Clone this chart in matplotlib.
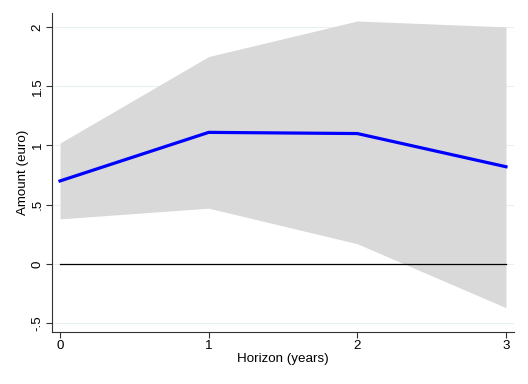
import matplotlib.pyplot as plt
import numpy as np

plt.rcParams['font.family'] = ['Liberation Sans', 'DejaVu Sans']

horizon = [0, 1, 2, 3]
estimate = [0.70, 1.11, 1.10, 0.82]
upper = [1.02, 1.75, 2.05, 2.00]
lower = [0.38, 0.47, 0.17, -0.37]
yticks = [-0.5, 0, 0.5, 1, 1.5, 2]
ytick_labels = ["-.5", "0", ".5", "1", "1.5", "2"]

fig = plt.figure(figsize=(5.28, 3.84), dpi=100)
ax = fig.add_axes([0.0985, 0.136, 0.875, 0.83])

# light gridlines at the y ticks
for yt in yticks:
    ax.axhline(yt, color='#eaf0f2', linewidth=0.8, zorder=0)

ax.fill_between(horizon, lower, upper, color='#d9d9d9', linewidth=0, zorder=1)
ax.plot(horizon, estimate, color='#0000ff', linewidth=2.3, zorder=3)
ax.plot([horizon[0], horizon[-1]], [0, 0], color='black', linewidth=0.9, zorder=2)

ax.set_xlim(-0.054, 3.054)
ax.set_ylim(-0.573, 2.117)
ax.set_xticks(horizon)
ax.set_yticks(yticks)
ax.set_yticklabels(ytick_labels, rotation=90, va='center')
ax.tick_params(labelsize=9.6, length=4, width=0.8, color='#333333')
ax.tick_params(axis='y', pad=2)
ax.tick_params(axis='x', pad=2)
ax.spines['top'].set_visible(False)
ax.spines['right'].set_visible(False)
for s in ['left', 'bottom']:
    ax.spines[s].set_linewidth(0.8)
    ax.spines[s].set_color('#333333')

ax.set_xlabel('Horizon (years)', fontsize=9.6, labelpad=1)
ax.set_ylabel('Amount (euro)', fontsize=9.6, labelpad=2)

fig.savefig('out.png', dpi=100)
